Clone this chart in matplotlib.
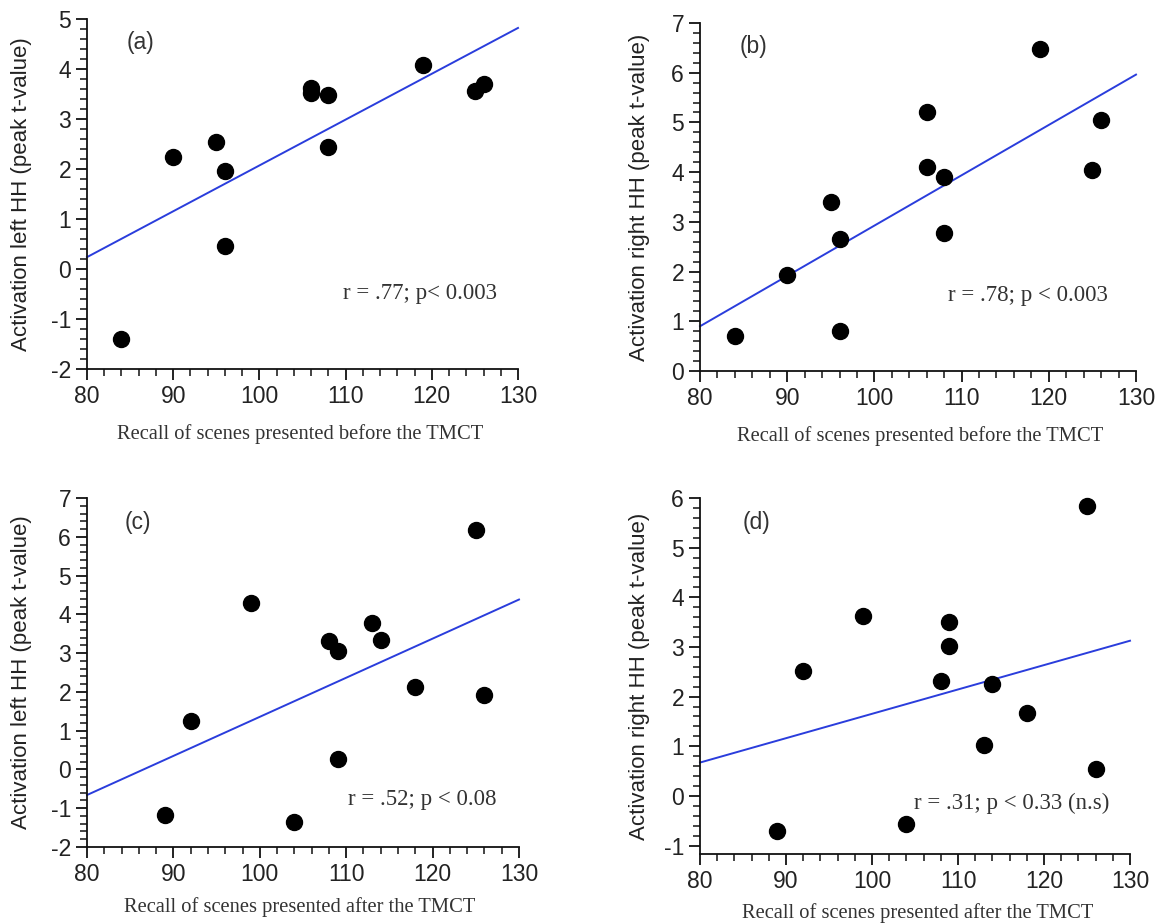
import numpy as np
import matplotlib
matplotlib.use("Agg")
import matplotlib.pyplot as plt
from matplotlib.ticker import MultipleLocator

plt.rcParams["axes.unicode_minus"] = False

# ---------------- data ----------------
recall_before = [84, 90, 95, 96, 96, 106, 106, 108, 108, 119, 125, 126]
left_hh_before = [-1.40, 2.24, 2.55, 1.97, 0.47, 3.63, 3.52, 3.49, 2.44, 4.09, 3.56, 3.70]
right_hh_before = [0.71, 1.94, 3.40, 2.66, 0.81, 5.20, 4.11, 3.90, 2.78, 6.47, 4.05, 5.04]

recall_after = [89, 92, 99, 104, 108, 109, 109, 113, 114, 118, 125, 126]
left_hh_after = [-1.17, 1.25, 4.29, -1.36, 3.31, 3.05, 0.27, 3.78, 3.35, 2.12, 6.17, 1.91]
right_hh_after = [-0.70, 2.51, 3.63, -0.56, 2.32, 3.50, 3.01, 1.03, 2.25, 1.67, 5.84, 0.54]

panel_tags = ["(a)", "(b)", "(c)", "(d)"]
stats_text = ["r = .77; p< 0.003", "r = .78; p < 0.003",
              "r = .52; p < 0.08", "r = .31; p < 0.33 (n.s)"]
ylabels = ["Activation left HH (peak t-value)", "Activation right HH (peak t-value)",
           "Activation left HH (peak t-value)", "Activation right HH (peak t-value)"]
xlabels = ["Recall of scenes presented before the TMCT", "Recall of scenes presented before the TMCT",
           "Recall of scenes presented after the TMCT", "Recall of scenes presented after the TMCT"]
ylims = [(-2, 5), (0, 7), (-2, 7), (-1.17, 6)]
xlim = (80, 130)

# ---------------- layout ----------------
W, H = 1163, 924
fig = plt.figure(figsize=(W / 100, H / 100), dpi=100)

# pixel boxes: left, right, top, bottom
boxes = [(87, 518, 19, 369), (700, 1136, 23, 371), (87, 519, 498, 847), (700, 1130, 498, 854)]
ylabel_x = [22, 640, 22, 640]
xlabel_pos = [(300, 434), (920, 436), (300, 907), (918, 913)]
tag_pos = [(127, 43), (740, 47), (125, 523), (743, 522)]
stat_pos = [(497, 294), (1108, 296), (497, 799), (1109, 803)]

series = [(recall_before, left_hh_before), (recall_before, right_hh_before),
          (recall_after, left_hh_after), (recall_after, right_hh_after)]

sans = ["Liberation Sans", "DejaVu Sans"]
serif = ["Liberation Serif", "DejaVu Serif"]
blue = "#2a3ddc"

for i, ((l, r, t, b), (xs, ys)) in enumerate(zip(boxes, series)):
    ax = fig.add_axes([l / W, (H - b) / H, (r - l) / W, (b - t) / H])
    ax.set_xlim(*xlim)
    ax.set_ylim(*ylims[i])
    for s in ["top", "right"]:
        ax.spines[s].set_visible(False)
    for s in ["left", "bottom"]:
        ax.spines[s].set_linewidth(1.3)
        ax.spines[s].set_color("#111111")
    ax.xaxis.set_major_locator(MultipleLocator(10))
    ax.xaxis.set_minor_locator(MultipleLocator(2))
    ax.yaxis.set_major_locator(MultipleLocator(1))
    ax.yaxis.set_minor_locator(MultipleLocator(0.2))
    ax.tick_params(which="major", direction="out", length=8, width=1.3, color="#111111",
                   labelsize=16.5, labelcolor="#222222", pad=3.5)
    ax.tick_params(which="minor", direction="out", length=4.8, width=1.1, color="#111111")
    for lab in ax.get_xticklabels() + ax.get_yticklabels():
        lab.set_family(sans)

    # least-squares regression line
    slope, icpt = np.polyfit(xs, ys, 1)
    xx = np.array(xlim, dtype=float)
    ax.plot(xx, slope * xx + icpt, color=blue, lw=1.4, clip_on=False, zorder=2)

    ax.plot(xs, ys, "o", color="black", markersize=11.5, zorder=3, clip_on=False)

    ax.set_ylabel(ylabels[i], fontsize=16, family=sans, color="#222222")
    ax.yaxis.set_label_coords(ylabel_x[i] / W, (H - (t + b) / 2) / H, transform=fig.transFigure)
    ax.set_xlabel(xlabels[i], fontsize=14.8, family=serif, color="#333333")
    ax.xaxis.set_label_coords(xlabel_pos[i][0] / W, (H - xlabel_pos[i][1]) / H, transform=fig.transFigure)
    ax.xaxis.label.set_va("center")
    ax.yaxis.label.set_va("center")

    fig.text(tag_pos[i][0] / W, (H - tag_pos[i][1]) / H, panel_tags[i], fontsize=16.5,
             family=sans, color="#333333", ha="left", va="center")
    fig.text(stat_pos[i][0] / W, (H - stat_pos[i][1]) / H, stats_text[i], fontsize=16.5,
             family=serif, color="#333333", ha="right", va="center")

fig.savefig("out.png", dpi=100)
